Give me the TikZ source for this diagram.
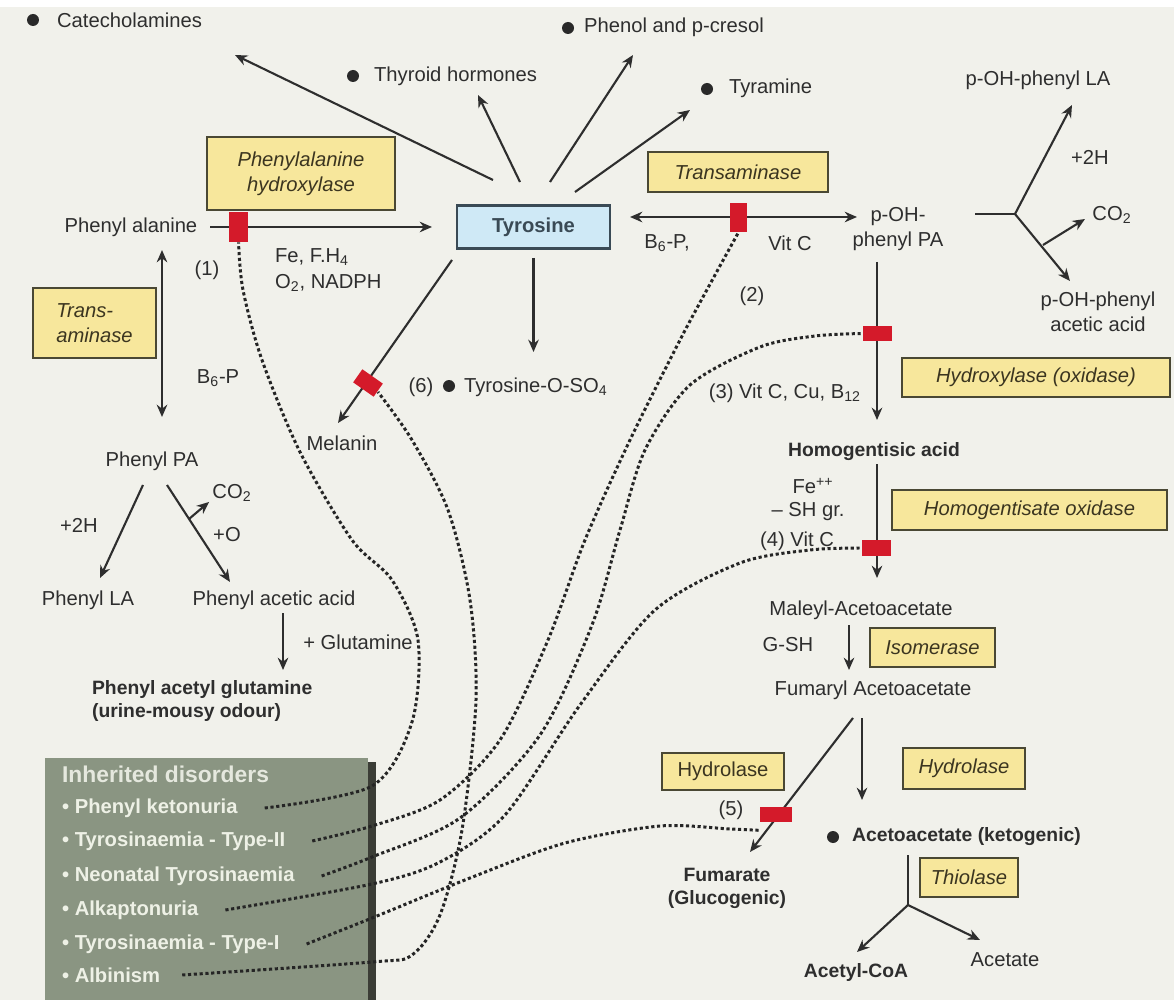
\documentclass[tikz,border=0pt]{standalone}
\usepackage{fontspec}
\setmainfont{Liberation Sans}
\usetikzlibrary{arrows.meta,calc}
\definecolor{bgc}{HTML}{F1F1EB}
\definecolor{txtc}{HTML}{2E2E2E}
\definecolor{yel}{HTML}{F7E79C}
\definecolor{yelb}{HTML}{4A4834}
\definecolor{yelt}{HTML}{3B3520}
\definecolor{blu}{HTML}{CFE9F6}
\definecolor{blub}{HTML}{3A4A55}
\definecolor{redb}{HTML}{D41A2A}
\definecolor{disc}{HTML}{8A9582}
\definecolor{disd}{HTML}{3B3D36}
\definecolor{dist}{HTML}{EEF1E6}
\begin{document}
\begin{tikzpicture}[x=0.02cm,y=-0.02cm,
 txt/.style={font=\fontsize{11.5}{14}\selectfont, text=txtc, inner sep=1pt},
 bld/.style={font=\fontsize{11}{13}\selectfont\bfseries, text=txtc, inner sep=1pt},
 enz/.style={draw=yelb, line width=1.3pt, fill=yel, font=\fontsize{11.5}{14}\selectfont\itshape, text=yelt, inner sep=2pt, align=center},
 rbar/.style={fill=redb, draw=none, inner sep=0pt},
 arr/.style={draw=txtc, line width=1.2pt, -{Stealth[length=7pt,width=6pt]}},
 darr/.style={draw=txtc, line width=1.2pt, {Stealth[length=7pt,width=6pt]}-{Stealth[length=7pt,width=6pt]}},
 ln/.style={draw=txtc, line width=1.2pt},
 dotl/.style={draw=txtc!80!black, line width=1.7pt, dash pattern=on 1.8pt off 1.5pt},
 bul/.style={circle, fill=txtc!90!black, inner sep=0pt, minimum size=0.24cm},
 disitem/.style={font=\fontsize{11.5}{14}\selectfont\bfseries, text=dist, anchor=west, inner sep=1pt},
]
\fill[bgc] (0,0) rectangle (1174,1000);
\fill[white] (0,0) rectangle (1174,7);
\useasboundingbox (0,0) rectangle (1174,1000);

% ---------- top products ----------
\node[bul] (b1) at (33,20) {};
\node[txt,anchor=west] (cat) at (55,20) {Catecholamines};
\node[bul] (b2) at (353,76) {};
\node[txt,anchor=west] (thy) at (372,76) {Thyroid hormones};
\node[bul] (b3) at (568,28) {};
\node[txt,anchor=west] (phe) at (582,27) {Phenol and p-cresol};
\node[bul] (b4) at (707,89) {};
\node[txt,anchor=west] (tyra) at (727,88) {Tyramine};
\node[txt] (pla) at (1038,80) {p-OH-phenyl LA};

% ---------- main row ----------
\node[enz, minimum width=3.76cm, minimum height=1.46cm] (pah) at (301,173.5) {Phenylalanine\\hydroxylase};
\node[txt] (phea) at (131,227) {Phenyl alanine};
\node[draw=blub, line width=1.3pt, fill=blu, minimum width=3.06cm, minimum height=0.86cm,
      font=\fontsize{11.5}{14}\selectfont\bfseries, text=blub] (tyro) at (533.5,227) {Tyrosine};
\node[enz, minimum width=3.6cm, minimum height=0.8cm] (trans) at (738,172) {Transaminase};
\node[txt, align=center] (pohpa) at (898,229) {p-OH-\\phenyl PA};

\draw[arr] ($(phea)+(79,0)$) -- ($(tyro)+(-101.5,0)$);
\node[rbar, minimum width=0.38cm, minimum height=0.6cm] (rb1) at (238.5,227) {};
\node[txt] (n1) at (207,270) {(1)};
\node[txt,anchor=west] (fe1) at (273,257) {Fe, F.H\textsubscript{4}};
\node[txt,anchor=west] (o2) at (273,283) {O\textsubscript{2}, NADPH};

\draw[darr] ($(tyro)+(96.5,-10)$) -- ($(pohpa)+(-41,-12)$);
\node[rbar, minimum width=0.34cm, minimum height=0.58cm] (rb2) at (738.5,217.5) {};
\node[txt] (b6p) at (667,243) {B\textsubscript{6}-P,};
\node[txt] (vc1) at (790,243) {Vit C};
\node[txt] (n2) at (752,296) {(2)};

% arrows from tyrosine
\draw[arr] ($(tyro)+(-40.5,-47)$) -- ($(b1)+(202,35)$);
\draw[arr] ($(tyro)+(-13.5,-45)$) -- ($(b2)+(125,19)$);
\draw[arr] ($(tyro)+(16.5,-45)$) -- ($(b3)+(65,27)$);
\draw[arr] ($(tyro)+(41.5,-35)$) -- ($(b4)+(-17,21)$);

% melanin and sulphate
\node[txt] (mel) at (342,443) {Melanin};
\draw[arr] ($(tyro)+(-81.5,33)$) -- ($(mel)+(-4,-20)$);
\node[rbar, minimum width=0.5cm, minimum height=0.32cm, rotate=-35] (rb6) at (368,383) {};
\node[txt] (n6) at (421,387) {(6)};
\node[bul] (b5) at (449,386) {};
\node[txt,anchor=west] (tos) at (462,387) {Tyrosine-O-SO\textsubscript{4}};
\draw[arr] ($(tyro)+(0,31)$) -- ($(tyro)+(0,125)$);

% ---------- p-OH-phenyl PA branch ----------
\node[txt] (h2a) at (1090,157) {+2H};
\node[txt] (co2a) at (1112,215) {CO\textsubscript{2}};
\node[txt, align=center] (pacid) at (1098,312) {p-OH-phenyl\\acetic acid};
\coordinate (pj) at ($(pohpa)+(117,-15)$);
\draw[ln] ($(pohpa)+(77,-15)$) -- (pj);
\draw[arr] (pj) -- ($(pla)+(34,25)$);
\draw[arr] (pj) -- ($(pacid)+(-28,-31)$);
\draw[arr] ($(pj)+(28,31)$) -- ($(co2a)+(-27,4)$);

% ---------- homogentisate pathway ----------
\node[bld] (hga) at (874,452) {Homogentisic acid};
\draw[arr] ($(pohpa)+(-21,33)$) -- ($(hga)+(3,-32)$);
\node[rbar, minimum width=0.58cm, minimum height=0.3cm] (rb3) at (877.5,333.5) {};
\node[enz, minimum width=5.36cm, minimum height=0.78cm] (hydrox) at (1036,377.5) {Hydroxylase (oxidase)};
\node[txt,anchor=east] (n3) at (863,393) {(3) Vit C, Cu, B\textsubscript{12}};

\node[txt] (mal) at (861,610) {Maleyl-Acetoacetate};
\draw[arr] ($(hga)+(3,12)$) -- ($(mal)+(16,-32)$);
\node[rbar, minimum width=0.58cm, minimum height=0.32cm] (rb4) at (876.5,548) {};
\node[enz, minimum width=5.5cm, minimum height=0.8cm] (hgo) at (1029.5,510) {Homogentisate oxidase};
\node[txt] (fepp) at (813,486) {Fe\textsuperscript{++}};
\node[txt] (shgr) at (808,512) {– SH gr.};
\node[txt] (n4) at (797,541) {(4) Vit C};

\node[txt] (gsh) at (788,645) {G-SH};
\node[enz, minimum width=2.5cm, minimum height=0.78cm] (iso) at (932.5,647.5) {Isomerase};
\node[txt] (fuma) at (873,690) {Fumaryl Acetoacetate};
\draw[arr] ($(mal)+(-12,15)$) -- ($(fuma)+(-24,-20)$);

\node[enz, minimum width=2.44cm, minimum height=0.74cm, font=\fontsize{11.5}{14}\selectfont\upshape] (hyd1) at (723,771.5) {Hydrolase};
\node[enz, minimum width=2.44cm, minimum height=0.82cm] (hyd2) at (964,768.5) {Hydrolase};
\node[bld, align=center] (fumr) at (727,888) {Fumarate\\(Glucogenic)};
\node[bul] (b6) at (833,837) {};
\node[bld,anchor=west] (aca) at (850,837) {Acetoacetate (ketogenic)};
\draw[arr] ($(fuma)+(-20,28)$) -- ($(fumr)+(23,-36)$);
\draw[arr] ($(fuma)+(-11,28)$) -- ($(b6)+(29,-37)$);
\node[rbar, minimum width=0.64cm, minimum height=0.3cm] (rb5) at (776,814.5) {};
\node[txt] (n5) at (731,810) {(5)};

\node[enz, minimum width=1.96cm, minimum height=0.78cm] (thio) at (969,877.5) {Thiolase};
\node[bld] (acoa) at (856,972) {Acetyl-CoA};
\node[txt] (acet) at (1005,960) {Acetate};
\coordinate (aj) at ($(b6)+(75,68)$);
\draw[ln] ($(b6)+(75,18)$) -- (aj);
\draw[arr] (aj) -- ($(acoa)+(1,-20)$);
\draw[arr] (aj) -- ($(acet)+(-25,-20)$);

% ---------- phenylalanine side ----------
\node[enz, minimum width=2.46cm, minimum height=1.4cm, align=left] (tam) at (94.5,323) {Trans-\\aminase};
\node[txt] (ppa) at (152,461) {Phenyl PA};
\draw[darr] ($(phea)+(31,23)$) -- ($(ppa)+(10,-44)$);
\node[txt] (b6pl) at (218,378) {B\textsubscript{6}-P};
\node[txt] (pla2) at (88,600) {Phenyl LA};
\node[txt] (paa) at (274,600) {Phenyl acetic acid};
\node[txt] (h2b) at (79,525) {+2H};
\node[txt] (co2b) at (232,493) {CO\textsubscript{2}};
\node[txt] (plo) at (227,535) {+O};
\draw[arr] ($(ppa)+(-9,24)$) -- ($(pla2)+(12,-22)$);
\coordinate (pr0) at ($(ppa)+(15,24)$);
\coordinate (pr1) at ($(paa)+(-44,-18)$);
\draw[arr] (pr0) -- (pr1);
\coordinate (pc) at ($(pr0)!0.35!(pr1)$);
\draw[arr] (pc) -- ($(pc)+(20,-17)$);
\draw[arr] ($(paa)+(9,13)$) -- ($(paa)+(9,70)$);
\node[txt] (glu) at (358,642) {+ Glutamine};
\node[bld, anchor=west, align=left] (pag) at (90,701) {Phenyl acetyl glutamine\\(urine-mousy odour)};

% ---------- inherited disorders ----------
\fill[disd] (51,762) rectangle (376,1000);
\node[fill=disc, anchor=north west, minimum width=6.46cm, minimum height=4.9cm, inner sep=0pt] (dbox) at (45,758) {};
\node[disitem, font=\fontsize{13}{15}\selectfont\bfseries, text=dist!92!gray] (dtitle) at (60,774) {Inherited disorders};
\node[disitem] (d1) at (60,808) {\textbullet\ Phenyl ketonuria};
\node[disitem] (d2) at (60,841) {\textbullet\ Tyrosinaemia - Type-II};
\node[disitem] (d3) at (60,876) {\textbullet\ Neonatal Tyrosinaemia};
\node[disitem] (d4) at (60,910) {\textbullet\ Alkaptonuria};
\node[disitem] (d5) at (60,944) {\textbullet\ Tyrosinaemia - Type-I};
\node[disitem] (d6) at (60,975) {\textbullet\ Albinism};

\coordinate (s1) at ($(d1.east)+(25,0)$);
\coordinate (s2) at ($(d2.east)+(25,0)$);
\coordinate (s3) at ($(d3.east)+(25,0)$);
\coordinate (s4) at ($(d4.east)+(25,0)$);
\coordinate (s5) at ($(d5.east)+(25,0)$);
\coordinate (s6) at ($(d6.east)+(20,0)$);

\draw[dotl] plot[smooth] coordinates {(s1) (372,786) (412,722) (418,640) (392,580) (352,540) (300,452) (262,360) (243,290) (rb1.south)};
\draw[dotl] plot[smooth] coordinates {(s2) (372,826) (440,800) (500,740) (548,640) (585,540) (630,440) (680,340) (715,275) (rb2.south)};
\draw[dotl] plot[smooth] coordinates {(s3) (372,857) (460,818) (540,735) (592,625) (620,530) (645,450) (690,385) (760,347) (815,336) (rb3.west)};
\draw[dotl] plot[smooth] coordinates {(s4) (372,884) (440,862) (505,815) (580,705) (655,610) (740,563) (810,550) (rb4.west)};
\draw[dotl] plot[smooth] coordinates {(s5) (372,918) (470,878) (565,843) (660,826) (730,829) ($(rb5.south west)+(0,8)$)};
\draw[dotl] plot[smooth] coordinates {(s6) (372,962) (412,955) (440,915) (462,830) (476,700) (470,600) (448,510) (412,440) ($(rb6)+(10,9)$)};
\end{tikzpicture}
\end{document}
